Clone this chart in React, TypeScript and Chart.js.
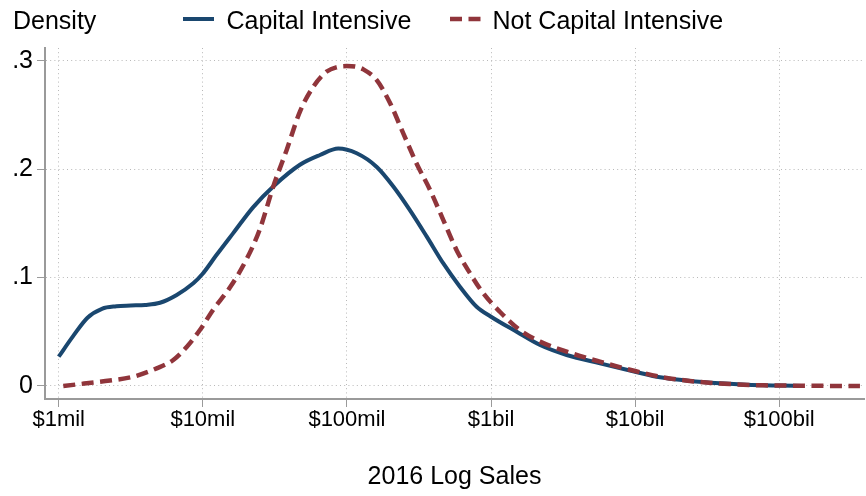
import React, { useEffect, useRef } from "react";
import { Chart, registerables } from "chart.js";

Chart.register(...registerables);

// ---- data (x = log10 of 2016 sales in dollars, y = kernel density) ----
const seriesLabels = ["Capital Intensive", "Not Capital Intensive"];

const capitalX = [6.0, 6.1, 6.2, 6.3, 6.4, 6.5, 6.6, 6.703, 6.819, 6.934, 6.996, 7.096, 7.211, 7.35, 7.489, 7.674, 7.813, 7.94, 8.068, 8.207, 8.322, 8.438, 8.553, 8.669, 8.784, 8.9, 9.0, 9.178, 9.34, 9.525, 9.756, 10.0, 10.173, 10.381, 10.589, 10.774, 11.0, 11.155];
const capitalY = [0.027, 0.046, 0.063, 0.0712, 0.0735, 0.0742, 0.0748, 0.0768, 0.084, 0.0947, 0.103, 0.121, 0.141, 0.165, 0.184, 0.204, 0.213, 0.219, 0.2146, 0.202, 0.184, 0.162, 0.138, 0.113, 0.0916, 0.0731, 0.0639, 0.05, 0.0378, 0.0286, 0.0209, 0.0132, 0.008, 0.0046, 0.0025, 0.0012, 0.0004, 0.0];

const notCapitalX = [6.032, 6.194, 6.356, 6.518, 6.68, 6.795, 6.888, 6.98, 7.073, 7.189, 7.304, 7.397, 7.489, 7.582, 7.674, 7.767, 7.86, 7.93, 7.998, 8.06, 8.114, 8.207, 8.299, 8.391, 8.484, 8.576, 8.669, 8.762, 8.854, 8.946, 9.061, 9.2, 9.34, 9.525, 9.756, 10.0, 10.194, 10.427, 10.658, 10.887, 11.121, 11.352, 11.56];
const notCapitalY = [0.0, 0.0025, 0.005, 0.0086, 0.0163, 0.024, 0.036, 0.0516, 0.0705, 0.091, 0.117, 0.145, 0.184, 0.2177, 0.253, 0.276, 0.29, 0.294, 0.295, 0.2945, 0.292, 0.282, 0.261, 0.233, 0.205, 0.181, 0.153, 0.125, 0.104, 0.0855, 0.0685, 0.0516, 0.0409, 0.0316, 0.0224, 0.0138, 0.008, 0.004, 0.0018, 0.0006, 0.0003, 0.0001, 0.0];

const xTickValues = [6, 7, 8, 9, 10, 11];
const xTickLabels = ["$1mil", "$10mil", "$100mil", "$1bil", "$10bil", "$100bil"];
const yTickValues = [0, 0.1, 0.2, 0.3];
const yTickLabels = ["0", ".1", ".2", ".3"];
const yAxisTitle = "Density";
const xAxisTitle = "2016 Log Sales";

// ---- styling ----
const FONT = '"Liberation Sans", Arial, Helvetica, sans-serif';
const NAVY = "#1a476f";
const MAROON = "#90353b";
const GRID = "#b8b8b8";
const AXIS = "#9a9a9a";

const legendPlugin = {
  id: "stataLegend",
  afterDraw(chart: any) {
    const ctx = chart.ctx;
    ctx.save();
    ctx.font = `25px ${FONT}`;
    ctx.fillStyle = "#000";
    ctx.textBaseline = "alphabetic";
    ctx.textAlign = "left";
    ctx.fillText(yAxisTitle, 13, 29);
    const slots = [
      { sx: 183, tx: 226.5 },
      { sx: 450, tx: 492.5 },
    ];
    chart.data.datasets.forEach((ds: any, i: number) => {
      const s = slots[i];
      ctx.save();
      ctx.beginPath();
      ctx.lineWidth = ds.borderWidth;
      ctx.strokeStyle = ds.borderColor;
      ctx.setLineDash(ds.borderDash || []);
      ctx.moveTo(s.sx, 19);
      ctx.lineTo(s.sx + 31, 19);
      ctx.stroke();
      ctx.restore();
      ctx.fillText(ds.label, s.tx, 29);
    });
    ctx.restore();
  },
};

export default function App() {
  const ref = useRef<HTMLCanvasElement | null>(null);

  useEffect(() => {
    if (!ref.current) return;
    const chart = new Chart(ref.current, {
      type: "line",
      data: {
        datasets: [
          {
            label: seriesLabels[0],
            data: capitalX.map((x, i) => ({ x, y: capitalY[i] })),
            borderColor: NAVY,
            backgroundColor: NAVY,
            borderWidth: 4,
            pointRadius: 0,
            cubicInterpolationMode: "monotone",
            fill: false,
            order: 1,
          },
          {
            label: seriesLabels[1],
            data: notCapitalX.map((x, i) => ({ x, y: notCapitalY[i] })),
            borderColor: MAROON,
            backgroundColor: MAROON,
            borderWidth: 4.5,
            borderDash: [12, 6.5],
            pointRadius: 0,
            cubicInterpolationMode: "monotone",
            fill: false,
            order: 0,
          },
        ],
      },
      options: {
        animation: false,
        responsive: false,
        events: [],
        layout: { padding: { top: 48, right: 2, left: 0, bottom: 0 } },
        plugins: {
          legend: { display: false },
          tooltip: { enabled: false },
        },
        scales: {
          x: {
            type: "linear",
            min: 5.905,
            max: 11.588,
            afterBuildTicks: (s: any) => {
              s.ticks = xTickValues.map((v) => ({ value: v }));
            },
            afterFit: (s: any) => {
              s.height = 97;
            },
            ticks: {
              callback: (v: any) => xTickLabels[xTickValues.indexOf(Number(v))],
              font: { size: 22, family: FONT },
              color: "#000",
              padding: 0,
              autoSkip: false,
              maxRotation: 0,
              minRotation: 0,
            },
            grid: {
              color: GRID,
              lineWidth: 1,
              tickLength: 8,
              tickColor: AXIS,
              tickWidth: 1,
              tickBorderDash: [],
            },
            border: { display: true, color: AXIS, width: 2, dash: [1, 3.2] },
            title: {
              display: true,
              text: xAxisTitle,
              font: { size: 25, family: FONT, lineHeight: 1.2 },
              color: "#000",
              padding: { top: 0, bottom: 3.5 },
            },
          },
          y: {
            type: "linear",
            min: -0.01199,
            max: 0.3117,
            afterBuildTicks: (s: any) => {
              s.ticks = yTickValues.map((v) => ({ value: v }));
            },
            afterFit: (s: any) => {
              s.width = 45;
            },
            ticks: {
              callback: (v: any) => {
                const idx = yTickValues.findIndex((t) => Math.abs(t - Number(v)) < 1e-9);
                return yTickLabels[idx];
              },
              font: { size: 25, family: FONT },
              color: "#000",
              padding: 4,
            },
            grid: {
              color: GRID,
              lineWidth: 1,
              tickLength: 8,
              tickColor: AXIS,
              tickWidth: 1,
              tickBorderDash: [],
            },
            border: { display: true, color: AXIS, width: 2, dash: [1, 3.2] },
          },
        },
      },
      plugins: [legendPlugin],
    } as any);
    return () => chart.destroy();
  }, []);

  return (
    <canvas
      ref={ref}
      width={866}
      height={496}
      style={{ position: "fixed", left: 0, top: 0, display: "block", background: "#fff" }}
    />
  );
}
